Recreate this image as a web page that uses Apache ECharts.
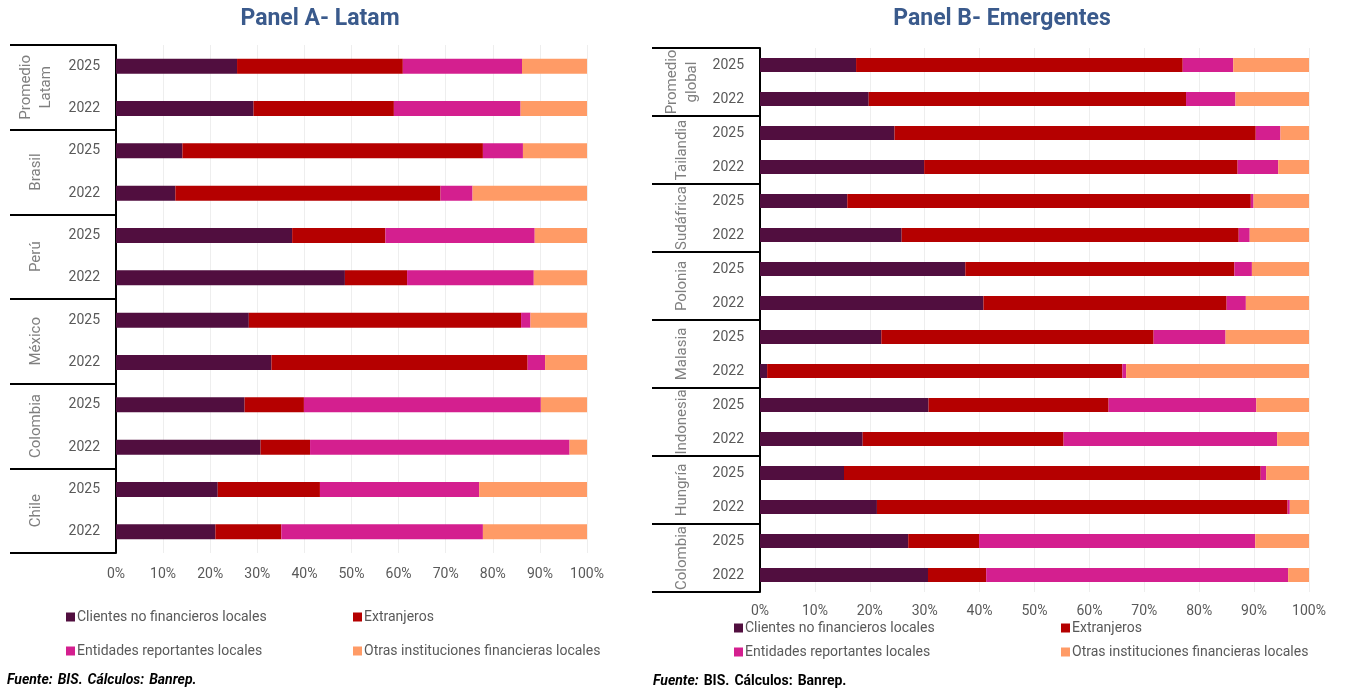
<!DOCTYPE html>
<html lang="es">
<head>
<meta charset="UTF-8">
<title>Panel A - Latam / Panel B - Emergentes</title>
<script src="https://cdn.jsdelivr.net/npm/echarts@6/dist/echarts.min.js"></script>
<style>
  html, body { margin: 0; padding: 0; background: #fff; }
  #main { width: 1346px; height: 692px; }
</style>
</head>
<body>
<div id="main"></div>
<script type="text/javascript">
// datos (porcentajes, cada fila suma 100)
var years = ['2025', '2022'];
var seriesNames = ['Clientes no financieros locales', 'Extranjeros', 'Entidades reportantes locales', 'Otras instituciones financieras locales'];
var colors = ['#510E3F', '#B50000', '#D41F8F', '#FF9B66'];

// Panel A - Latam
var latamGroups = ['Promedio\nLatam', 'Brasil', 'Perú', 'México', 'Colombia', 'Chile'];
var latamClientes    = [25.7, 29.2, 14.1, 12.6, 37.4, 48.6, 28.2, 33.0, 27.3, 30.7, 21.6, 21.1];
var latamExtranjeros = [35.2, 29.8, 63.8, 56.3, 19.8, 13.2, 57.8, 54.4, 12.6, 10.5, 21.7, 14.0];
var latamEntidades   = [25.3, 26.9,  8.5,  6.8, 31.7, 26.9,  2.0,  3.7, 50.3, 55.1, 33.8, 42.8];
var latamOtras       = [13.8, 14.1, 13.6, 24.3, 11.1, 11.3, 12.0,  8.9,  9.8,  3.7, 22.9, 22.1];

// Panel B - Emergentes
var emerGroups = ['Promedio\nglobal', 'Tailandia', 'Sudáfrica', 'Polonia', 'Malasia', 'Indonesia', 'Hungría', 'Colombia'];
var emerClientes    = [17.5, 19.8, 24.5, 29.9, 15.9, 25.8, 37.4, 40.7, 22.1,  1.3, 30.7, 18.7, 15.3, 21.3, 27.0, 30.6];
var emerExtranjeros = [59.5, 57.8, 65.8, 57.1, 73.5, 61.4, 49.0, 44.3, 49.6, 64.7, 32.8, 36.6, 75.9, 74.8, 12.9, 10.6];
var emerEntidades   = [ 9.2,  9.0,  4.5,  7.4,  0.5,  2.0,  3.2,  3.5, 13.1,  0.7, 26.9, 38.9,  1.0,  0.4, 50.3, 55.0];
var emerOtras       = [13.8, 13.4,  5.2,  5.6, 10.1, 10.8, 10.4, 11.5, 15.2, 33.3,  9.6,  5.8,  7.8,  3.5,  9.8,  3.8];

var FONT = 'Roboto';
var GRAY = '#595959';

function rowKeys(groups) {
    var keys = [];
    groups.forEach(function (g) {
        years.forEach(function (y) { keys.push(g + '|' + y); });
    });
    return keys;
}

var myChart = echarts.init(document.getElementById('main'));

var panels = [
    { groups: latamGroups, data: [latamClientes, latamExtranjeros, latamEntidades, latamOtras],
      grid: { left: 116, right: 759, top: 45, bottom: 139 }, barWidth: 15, tick: 106, grpMargin: 80, xMargin: 14 },
    { groups: emerGroups, data: [emerClientes, emerExtranjeros, emerEntidades, emerOtras],
      grid: { left: 760, right: 37, top: 48, bottom: 100 }, barWidth: 14, tick: 108, grpMargin: 78, xMargin: 12 }
];

var grids = [], xAxes = [], yAxes = [], series = [];
panels.forEach(function (p, i) {
    grids.push(p.grid);
    xAxes.push({
        type: 'value', gridIndex: i, min: 0, max: 100, interval: 10,
        axisLine: { show: false }, axisTick: { show: false },
        splitLine: { lineStyle: { color: '#EEEEEE', width: 1 } },
        axisLabel: { color: GRAY, fontFamily: FONT, fontSize: 14, margin: p.xMargin,
            formatter: function (v) { return v + '%'; } }
    });
    // eje de años
    yAxes.push({
        type: 'category', gridIndex: i, inverse: true, data: rowKeys(p.groups),
        axisLine: { lineStyle: { color: '#000', width: 2 } },
        axisTick: { show: false },
        axisLabel: { color: GRAY, fontFamily: FONT, fontSize: 14, margin: 16, interval: 0,
            formatter: function (v) { return v.split('|')[1]; } }
    });
    // eje de grupos (paises)
    yAxes.push({
        type: 'category', gridIndex: i, inverse: true, data: p.groups, position: 'left',
        axisLine: { show: false },
        axisTick: { show: true, interval: 0, length: p.tick, lineStyle: { color: '#000', width: 2 } },
        axisLabel: { color: '#7F7F7F', fontFamily: FONT, fontSize: 15, rotate: 90, interval: 0,
            margin: p.grpMargin, lineHeight: 20, align: 'center', verticalAlign: 'middle' }
    });
    p.data.forEach(function (vals, k) {
        series.push({
            name: seriesNames[k], type: 'bar', stack: 'total' + i,
            xAxisIndex: i, yAxisIndex: i * 2, barWidth: p.barWidth,
            itemStyle: { color: colors[k] },
            data: vals
        });
    });
});

function legendCol(names, left, top, gap) {
    return {
        data: names, orient: 'vertical', left: left, top: top, itemGap: gap,
        icon: 'rect', itemWidth: 9, itemHeight: 9, selectedMode: false,
        textStyle: { color: GRAY, fontFamily: FONT, fontSize: 14, padding: [0, 0, 0, -3] }
    };
}

var footRich = {
    b: { fontFamily: FONT, fontSize: 14, fontWeight: 'bold', fontStyle: 'italic', color: '#000' },
    i: { fontFamily: FONT, fontSize: 14, fontStyle: 'italic', color: '#000' },
    bn: { fontFamily: FONT, fontSize: 14, fontWeight: 'bold', color: '#000' },
    n: { fontFamily: FONT, fontSize: 14, color: '#000' }
};

myChart.setOption({
    animation: false,
    title: [
        { text: 'Panel A- Latam', left: 315, top: 3, textAlign: 'center',
          textStyle: { color: '#3A5A8C', fontFamily: FONT, fontSize: 23, fontWeight: 'bold' } },
        { text: 'Panel B- Emergentes', left: 997, top: 3, textAlign: 'center',
          textStyle: { color: '#3A5A8C', fontFamily: FONT, fontSize: 23, fontWeight: 'bold' } },
        { text: '{b|Fuente:} {i|BIS.} {b|Cálculos:} {i|Banrep.}', left: 2, top: 666,
          textStyle: { rich: footRich } },
        { text: '{b|Fuente:} {n|BIS.} {bn|Cálculos:} {n|Banrep.}', left: 648, top: 667,
          textStyle: { rich: footRich } }
    ],
    legend: [
        legendCol([seriesNames[0], seriesNames[2]], 61, 605, 20),
        legendCol([seriesNames[1], seriesNames[3]], 348, 605, 20),
        legendCol([seriesNames[0], seriesNames[2]], 729, 616, 10),
        legendCol([seriesNames[1], seriesNames[3]], 1056, 616, 10)
    ],
    grid: grids,
    xAxis: xAxes,
    yAxis: yAxes,
    series: series
});
</script>
</body>
</html>
